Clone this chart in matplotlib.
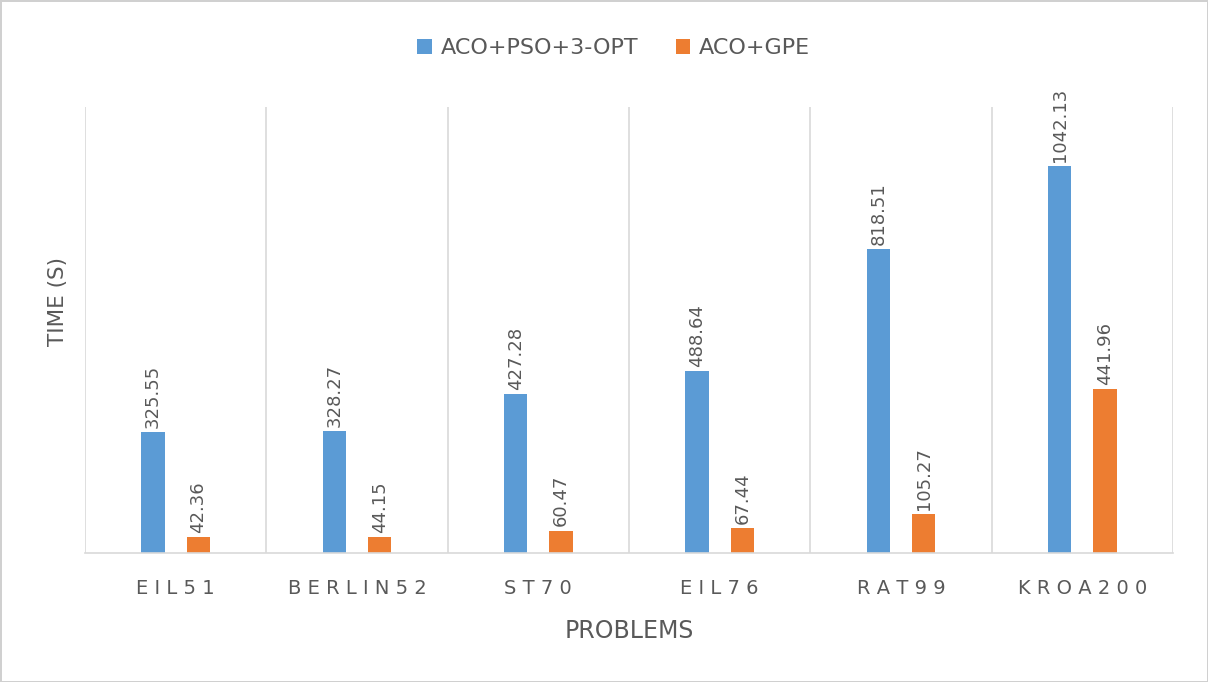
import numpy as np
import matplotlib.pyplot as plt

# running time of the two methods on each TSP instance
problems = ['EIL51', 'BERLIN52', 'ST70', 'EIL76', 'RAT99', 'KROA200']
aco_pso_3opt = [325.55, 328.27, 427.28, 488.64, 818.51, 1042.13]
aco_gpe = [42.36, 44.15, 60.47, 67.44, 105.27, 441.96]
series_names = ['ACO+PSO+3-OPT', 'ACO+GPE']

blue = '#5B9BD5'
orange = '#ED7D31'
grey_txt = '#595959'
grid_col = '#D9D9D9'

plt.rcParams['font.family'] = ['DejaVu Sans']

fig = plt.figure(figsize=(12.08, 6.82), dpi=100)
fig.patch.set_edgecolor('#D0D0D0')
fig.patch.set_linewidth(2)
ax = fig.add_axes([0.0704, 0.189, 0.9006, 0.654])

x = np.arange(len(problems))
w = 0.13
b1 = ax.bar(x - 0.125, aco_pso_3opt, w, color=blue, label=series_names[0])
b2 = ax.bar(x + 0.125, aco_gpe, w, color=orange, label=series_names[1])

# value labels, rotated, sitting just above each bar
for bars, vals in ((b1, aco_pso_3opt), (b2, aco_gpe)):
    for r, v in zip(bars, vals):
        ax.annotate(f'{v:.2f}', (r.get_x() + r.get_width() / 2, v),
                    xytext=(0, 3), textcoords='offset points',
                    rotation=90, ha='center', va='bottom',
                    fontsize=13, color=grey_txt)

ax.set_xlim(-0.5, len(problems) - 0.5)
ax.set_ylim(0, 1200)

# vertical separators between categories
for xb in np.arange(-0.5, len(problems), 1.0):
    ax.axvline(xb, color=grid_col, lw=1.2, zorder=0)

for s in ['top', 'right', 'left']:
    ax.spines[s].set_visible(False)
ax.spines['bottom'].set_color(grid_col)
ax.spines['bottom'].set_linewidth(1.2)

ax.set_yticks([])
ax.set_xticks(x)
ax.set_xticklabels([' '.join(p) for p in problems],
                   fontsize=14, color=grey_txt)
ax.tick_params(axis='x', length=0, pad=19)

ax.set_xlabel('PROBLEMS', fontsize=17, color=grey_txt, labelpad=15)
ax.set_ylabel('TIME (S)', fontsize=15.5, color=grey_txt)
ax.yaxis.set_label_coords(-0.0156, 0.563)

fig.legend(loc='center', bbox_to_anchor=(0.508, 0.929), ncol=2,
           frameon=False, fontsize=16, handlelength=0.65, handleheight=0.65,
           handletextpad=0.4, columnspacing=1.7, labelcolor=grey_txt)

fig.savefig('out.png', dpi=100, edgecolor=fig.get_edgecolor())
